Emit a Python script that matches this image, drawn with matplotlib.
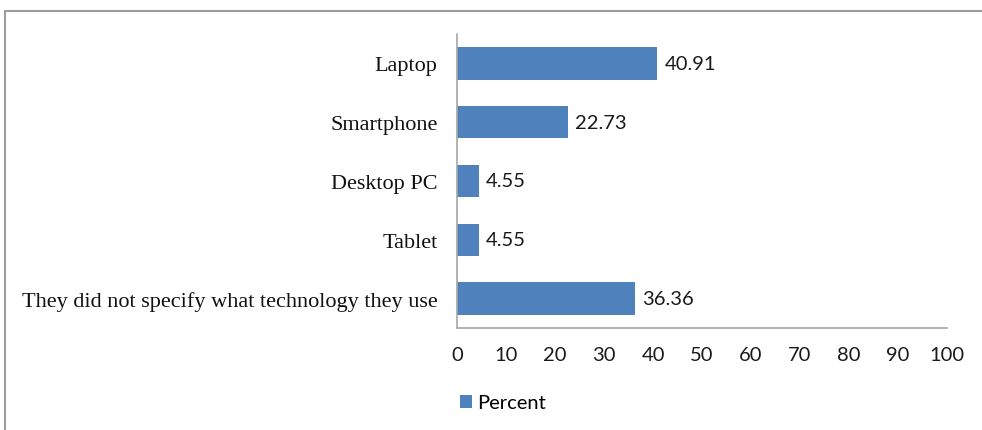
import matplotlib.pyplot as plt
from matplotlib.patches import Rectangle

categories = ["They did not specify what technology they use", "Tablet",
              "Desktop PC", "Smartphone", "Laptop"]
percent = [36.36, 4.55, 4.55, 22.73, 40.91]
xticks = [0, 10, 20, 30, 40, 50, 60, 70, 80, 90, 100]

bar_color = "#4F81BD"
axis_color = "#A6A6A6"

fig = plt.figure(figsize=(9.82, 4.31), dpi=100)
ax = fig.add_axes([0.4654, 0.2367, 0.4990, 0.6821])

bars = ax.barh(categories, percent, height=0.55, color=bar_color, label="Percent")
ax.bar_label(bars, labels=[f"{v:.2f}" for v in percent], padding=5,
             fontsize=14.5, family="Lato", color="#1a1a1a")

ax.set_xlim(0, 100)
ax.set_ylim(-0.5, len(categories) - 0.5)
ax.set_xticks(xticks)
ax.set_xticklabels([str(t) for t in xticks], family="Lato", fontsize=14.5, color="#1a1a1a")
ax.set_yticks(range(len(categories)))
ax.set_yticklabels(categories, family="Liberation Serif", fontsize=16, color="#111111")
ax.tick_params(axis="x", length=0, pad=13)
ax.tick_params(axis="y", length=0, pad=14)

for side in ("top", "right"):
    ax.spines[side].set_visible(False)
for side in ("left", "bottom"):
    ax.spines[side].set_color(axis_color)
    ax.spines[side].set_linewidth(1.2)

# outer chart frame
fig.patches.append(Rectangle((5 / 982, -0.1), 1.2, 1.1 - 12 / 431,
                             transform=fig.transFigure, fill=False,
                             edgecolor="#9E9E9E", linewidth=1.5))

fig.legend(handles=[bars], labels=["Percent"], loc="center left",
           bbox_to_anchor=(460 / 982, 1 - 404 / 431), frameon=False,
           prop={"family": "Lato", "size": 14.5}, handlelength=0.6,
           handleheight=0.6, handletextpad=0.25, borderpad=0, borderaxespad=0)

fig.savefig("out.png", dpi=100)
